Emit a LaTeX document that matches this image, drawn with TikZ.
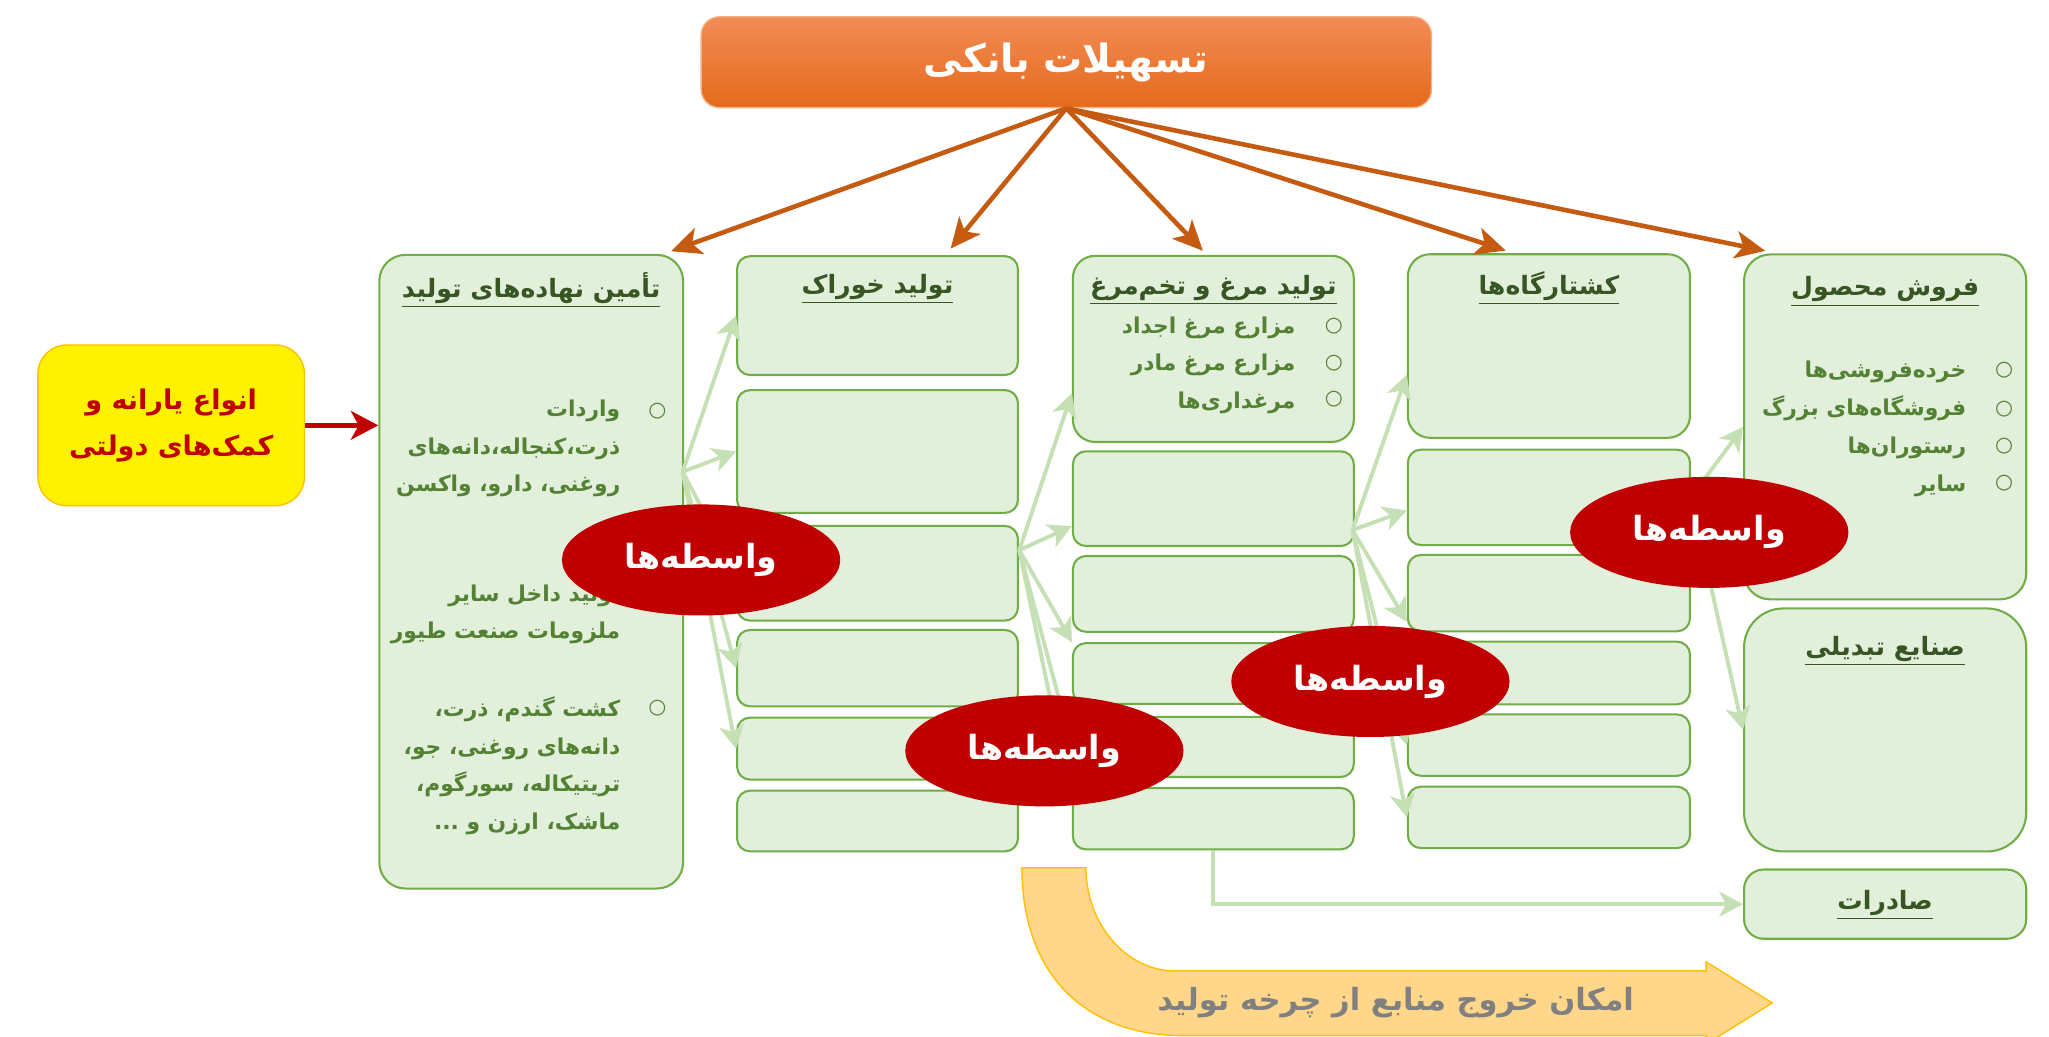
\documentclass[tikz,border=0pt]{standalone}
\usepackage{fontspec}
\usetikzlibrary{arrows.meta,shapes.geometric,calc}
\newfontfamily\fa[Script=Arabic]{DejaVu Sans}
\TeXXeTstate=1
\newcommand{\fatxt}[1]{\beginR#1\endR}
\definecolor{boxfill}{HTML}{E2EFDA}
\definecolor{boxline}{HTML}{70AD47}
\definecolor{ttlgreen}{HTML}{375623}
\definecolor{txtgreen}{HTML}{548235}
\definecolor{linkgreen}{HTML}{C5E0B4}
\definecolor{loanorange}{HTML}{C55A11}
\definecolor{agentred}{HTML}{C00000}
\definecolor{bandfill}{HTML}{FFD68A}
\definecolor{bandline}{HTML}{FFC000}
\definecolor{headtop}{HTML}{F28C55}
\definecolor{headmid}{HTML}{F47B27}
\definecolor{headbot}{HTML}{E56A1B}
\definecolor{headline}{HTML}{F4B183}
\tikzset{
 headbox/.style={draw=headline,line width=0.6pt,rounded corners=0.28cm,top color=headtop,middle color=headmid,bottom color=headbot,minimum width=11.18cm,minimum height=1.39cm,text=white,font=\fa\bfseries\fontsize{17}{20}\selectfont},
 subsidybox/.style={draw=bandline,line width=0.6pt,fill=yellow,rounded corners=0.44cm,minimum width=4.08cm,minimum height=2.46cm,text=agentred,align=center,font=\fa\bfseries\fontsize{11.8}{19.8}\selectfont},
 box/.style={draw=boxline,fill=boxfill,line width=0.9pt,rounded corners=0.2cm,minimum width=4.3cm,inner sep=0pt},
 ttl/.style={text=ttlgreen,font=\fa\bfseries\fontsize{11}{14}\selectfont,inner sep=0pt,anchor=south},
 txt/.style={text=txtgreen,font=\fa\bfseries\fontsize{9.5}{16.3}\selectfont,inner sep=0pt,align=right,anchor=north east},
 blt/.style={text=txtgreen,font=\fa\fontsize{9}{9}\selectfont,inner sep=0pt},
 agent/.style={ellipse,fill=agentred,inner sep=0pt,minimum width=4.26cm,minimum height=1.7cm,text=white,font=\fa\bfseries\fontsize{14.5}{17}\selectfont},
 feed/.style={draw=linkgreen,line width=1.7pt,-{Stealth[length=0.36cm,width=0.38cm,inset=0.1cm]}},
 loan/.style={draw=loanorange,line width=2pt,-{Stealth[length=0.46cm,width=0.42cm,inset=0.12cm]}},
 subsidy/.style={draw=agentred,line width=2pt,-{Stealth[length=0.42cm,width=0.44cm,inset=0.12cm]}},
 exitband/.style={draw=bandline,line width=0.6pt,fill=bandfill}
}
\begin{document}
\begin{tikzpicture}[x=0.02cm,y=-0.02cm]
\useasboundingbox (0,0) rectangle (1568,793);
\draw[exitband] (782,664) -- (831,664) .. controls (831,707) and (862,743) .. (899,743) -- (1305.6,743) -- (1305.6,736) -- (1356.3,767.5) -- (1305.6,799) -- (1305.6,792.5) -- (905,792.5) .. controls (830,792.5) and (782,745) .. (782,664) -- cycle;
\node[text=gray,font=\fa\bfseries\fontsize{13.3}{16}\selectfont] (exit) at (1068,767.6) {\fatxt{امکان خروج منابع از چرخه تولید}};
\node[headbox] (bank) at (816,47.6) {\fatxt{تسهیلات بانکی}};
\node[subsidybox] (yel) at (131,325.5) {\fatxt{انواع یارانه و}\\\fatxt{کمک‌های دولتی}};
\node[box,rounded corners=0.4cm,minimum width=4.65cm,minimum height=9.7cm] (c1) at (406.5,437.5) {};
\node[box,minimum height=1.82cm] (c2a) at (671.5,241.5) {};
\node[box,minimum height=1.88cm] (c2b) at (671.5,345.5) {};
\node[box,minimum height=1.45cm] (c2c) at (671.5,438.7) {};
\node[box,minimum height=1.17cm] (c2d) at (671.5,511.3) {};
\node[box,minimum height=0.95cm] (c2e) at (671.5,572.9) {};
\node[box,minimum height=0.93cm] (c2f) at (671.5,628.3) {};
\node[box,rounded corners=0.34cm,minimum height=2.85cm] (c3a) at (928.5,267) {};
\node[box,minimum height=1.45cm] (c3b) at (928.5,381.6) {};
\node[box,minimum height=1.16cm] (c3c) at (928.5,454.5) {};
\node[box,minimum height=0.93cm] (c3d) at (928.5,515.4) {};
\node[box,minimum height=0.92cm] (c3e) at (928.5,571.6) {};
\node[box,minimum height=0.94cm] (c3f) at (928.5,626.5) {};
\node[box,rounded corners=0.34cm,minimum width=4.32cm,minimum height=2.81cm] (c4a) at (1185.3,264.8) {};
\node[box,minimum width=4.32cm,minimum height=1.46cm] (c4b) at (1185.3,380.6) {};
\node[box,minimum width=4.32cm,minimum height=1.17cm] (c4c) at (1185.3,453.9) {};
\node[box,minimum width=4.32cm,minimum height=0.96cm] (c4d) at (1185.3,515) {};
\node[box,minimum width=4.32cm,minimum height=0.94cm] (c4e) at (1185.3,570.2) {};
\node[box,minimum width=4.32cm,minimum height=0.94cm] (c4f) at (1185.3,625.5) {};
\node[box,rounded corners=0.4cm,minimum width=4.32cm,minimum height=5.28cm] (sale) at (1442.6,326.7) {};
\node[box,rounded corners=0.6cm,minimum width=4.32cm,minimum height=3.72cm] (conv) at (1442.6,558.6) {};
\node[box,rounded corners=0.3cm,minimum width=4.32cm,minimum height=1.06cm] (exp) at (1442.6,691.9) {};
\node[ttl] (t1) at ($(c1.north)+(0,42)$) {\underline{\fatxt{تأمین نهاده‌های تولید}}};
\node[ttl] (t2) at ($(c2a.north)+(0,38)$) {\underline{\fatxt{تولید خوراک}}};
\node[ttl] (t3) at ($(c3a.north)+(0,39)$) {\underline{\fatxt{تولید مرغ و تخم‌مرغ}}};
\node[ttl] (t4) at ($(c4a.north)+(0,40)$) {\underline{\fatxt{کشتارگاه‌ها}}};
\node[ttl] (t5) at ($(sale.north)+(0,41)$) {\underline{\fatxt{فروش محصول}}};
\node[ttl] (t6) at ($(conv.north)+(0,45)$) {\underline{\fatxt{صنایع تبدیلی}}};
\node[ttl] (t7) at ($(exp.north)+(0,40)$) {\underline{\fatxt{صادرات}}};
\node[txt] (p1) at (475,306) {\fatxt{واردات}\\\fatxt{ذرت،کنجاله،دانه‌های}\\\fatxt{روغنی، دارو، واکسن}};
\node[txt] (p2) at (475,447) {\fatxt{تولید داخل سایر}\\\fatxt{ملزومات صنعت طیور}};
\node[txt] (p3) at (475,533) {\fatxt{کشت گندم، ذرت،}\\\fatxt{دانه‌های روغنی، جو،}\\\fatxt{تریتیکاله، سورگوم،}\\\fatxt{ماشک، ارزن و ...}};
\node[blt] (b1) at (503,315) {○};
\node[blt] (b2) at (503,456) {○};
\node[blt] (b3) at (503,542) {○};
\node[txt] (p4) at (991.7,242) {\fatxt{مزارع مرغ اجداد}\\\fatxt{مزارع مرغ مادر}\\\fatxt{مرغداری‌ها}};
\node[blt] (b4) at (1020.8,249.3) {○};
\node[blt] (b5) at (1020.8,277.9) {○};
\node[blt] (b6) at (1020.8,305.8) {○};
\node[txt,font=\fa\bfseries\fontsize{9.5}{16.5}\selectfont] (p5) at (1505,276) {\fatxt{خرده‌فروشی‌ها}\\\fatxt{فروشگاه‌های بزرگ}\\\fatxt{رستوران‌ها}\\\fatxt{سایر}};
\node[blt] (b7) at (1533.6,283.3) {○};
\node[blt] (b8) at (1533.6,312.8) {○};
\node[blt] (b9) at (1533.6,341.5) {○};
\node[blt] (b10) at (1533.6,369.8) {○};
\coordinate (f1) at (522.4,361);
\coordinate (f2) at (780,421);
\coordinate (f3) at (1035,405.6);
\draw[feed] (f1) -- (c2a.west);
\draw[feed] (f1) -- (c2b.west);
\draw[feed] (f1) -- (c2c.west);
\draw[feed] (f1) -- (c2d.west);
\draw[feed] (f1) -- (c2e.west);
\draw[feed] (f2) -- ($(c3a.west)+(0,34)$);
\draw[feed] (f2) -- ($(c3b.west)+(0,21)$);
\draw[feed] (f2) -- (c3d.north west);
\draw[feed] (f2) -- (c3e.west);
\draw[feed] (f2) -- ($(c3f.west)+(0,-12)$);
\draw[feed] (f3) -- ($(c4a.west)+(0,22)$);
\draw[feed] (f3) -- ($(c4b.west)+(0,10)$);
\draw[feed] (f3) -- ($(c4c.west)+(0,22)$);
\draw[feed] (f3) -- (c4e.west);
\draw[feed] (f3) -- (c4f.west);
\draw[feed] (c4b.east) -- (sale.west);
\draw[feed] (c4b.east) -- (conv.west);
\draw[feed] (c3f.south) |- (exp.west);
\draw[loan] (bank.south) -- ($(c1.north east)+(-10,-2)$);
\draw[loan] (bank.south) -- ($(c2a.north)+(56,-5)$);
\draw[loan] (bank.south) -- ($(c3a.north)+(-8,-3)$);
\draw[loan] (bank.south) -- ($(c4a.north)+(-33,-2)$);
\draw[loan] (bank.south) -- ($(sale.north west)+(17,-2)$);
\draw[subsidy] (yel.east) -- (yel.east -| c1.west);
\node[agent] (e1) at (536.5,428.5) {\fatxt{واسطه‌ها}};
\node[agent] (e2) at (799.2,574.6) {\fatxt{واسطه‌ها}};
\node[agent] (e3) at (1048.7,521.5) {\fatxt{واسطه‌ها}};
\node[agent] (e4) at (1308,407.4) {\fatxt{واسطه‌ها}};
\end{tikzpicture}
\end{document}
